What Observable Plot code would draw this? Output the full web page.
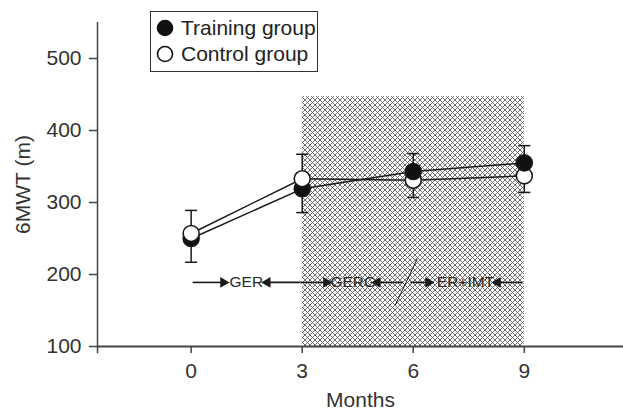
<!DOCTYPE html>
<html>
<head>
<meta charset="utf-8">
<script src="https://cdn.jsdelivr.net/npm/d3@7"></script>
<script src="https://cdn.jsdelivr.net/npm/@observablehq/plot@0.6"></script>
<style>
  body { margin: 0; background: #fff; font-family: "Liberation Sans", Arial, sans-serif; }
  #wrap { position: relative; width: 623px; height: 412px; }
  #legend { position: absolute; left: 150px; top: 11px; width: 168px; height: 61px; border: 1px solid #333; background: #fff; box-sizing: border-box; }
  #legend .row { position: absolute; left: 5px; display: flex; align-items: center; font-size: 21px; color: #222; white-space: nowrap; }
  #legend svg { margin-right: 7px; }
  #chart g[aria-label="y-axis tick label"], #chart g[aria-label="x-axis tick label"] { font-size: 21px; }
  #chart g[aria-label="y-axis label"], #chart g[aria-label="x-axis label"] { font-size: 21px; }
</style>
</head>
<body>
<div id="wrap">
  <div id="chart"></div>
  <div id="legend"></div>
</div>
<script>
// ---- data ----
const months = [0, 3, 6, 9];
const trainingMean = [250, 319, 343, 355];
const controlMean = [257, 333, 331, 337];
// one-sided error bar end values (SD)
const trainingErrEnd = [217, 286, 368, 379];
const controlErrEnd = [289, 367, 307, 314];
const yTicks = [100, 200, 300, 400, 500];
const xTicks = [0, 3, 6, 9];
const xDomain = [-2.53, 11.68];
const yDomain = [100, 550];
const interventionPeriod = [3, 9];
const interventionTop = 447;
// phase annotation
const annotY = 189;
const phaseLabels = ["GER", "GERG", "ER+IMT"];
const phaseCenters = [1.49, 4.38, 7.41];
const arrowFrom = [0.04, 2.95, 2.95, 5.73, 5.92, 8.95];
const arrowTo = [0.87, 2.06, 3.65, 5.03, 6.41, 8.28];
const slashX = [5.52, 6.11];
const slashY = [158, 222];
const groups = ["Training group", "Control group"];

// ---- build tables ----
const points = months.flatMap((m, i) => [
  {month: m, value: trainingMean[i], end: trainingErrEnd[i], group: groups[0], fill: "#111"},
  {month: m, value: controlMean[i], end: controlErrEnd[i], group: groups[1], fill: "#fff"}
]);
const arrows = arrowFrom.map((f, i) => ({from: f, to: arrowTo[i], rot: arrowTo[i] > f ? 90 : -90}));
const phases = phaseLabels.map((t, i) => ({label: t, x: phaseCenters[i]}));

const capSymbol = {
  draw(ctx, size) {
    const r = Math.sqrt(size / Math.PI);
    ctx.moveTo(-r, 0);
    ctx.lineTo(r, 0);
  }
};

const ink = "#1a1a1a";
const chart = Plot.plot({
  width: 623,
  height: 412,
  marginLeft: 97,
  marginRight: 0,
  marginTop: 22,
  marginBottom: 66,
  x: {domain: xDomain},
  y: {domain: yDomain},
  color: {type: "identity"},
  style: {fontFamily: "'Liberation Sans', Arial, sans-serif", fontSize: "21px", color: "#333", background: "#fff", overflow: "visible"},
  marks: [
    Plot.rect([interventionPeriod], {x1: d => d[0], x2: d => d[1], y1: yDomain[0], y2: interventionTop, fill: "url(#xhatch)"}),
    Plot.axisX({ticks: xTicks, tickSize: 7, tickPadding: 10, fontSize: 21, label: "Months", labelAnchor: "center", labelArrow: "none", labelOffset: 60, stroke: "#444", strokeWidth: 1.5}),
    Plot.axisY({ticks: yTicks, tickSize: 8, tickPadding: 8, fontSize: 21, label: "6MWT (m)", labelAnchor: "center", labelArrow: "none", labelOffset: 82, stroke: "#444", strokeWidth: 1.5}),
    Plot.ruleY([yDomain[0]], {stroke: "#444", strokeWidth: 1.8}),
    Plot.ruleX([xDomain[0]], {y1: yDomain[0] - 10, y2: yDomain[1], stroke: "#444", strokeWidth: 1.5}),
    // phase annotation
    Plot.link(arrows, {x1: "from", x2: "to", y1: annotY, y2: annotY, stroke: ink, strokeWidth: 1.6}),
    Plot.dot(arrows, {x: "to", y: annotY, symbol: "triangle", r: 4, rotate: "rot", fill: ink, stroke: null}),
    Plot.text(phases, {x: "x", y: annotY, text: "label", fontSize: 15.5, fill: "#2a2a2a"}),
    Plot.link([{x1: slashX[0], x2: slashX[1], y1: slashY[0], y2: slashY[1]}], {x1: "x1", x2: "x2", y1: "y1", y2: "y2", stroke: ink, strokeWidth: 1}),
    // series
    Plot.line(points, {x: "month", y: "value", z: "group", stroke: ink, strokeWidth: 1.5}),
    Plot.ruleX(points, {x: "month", y1: "value", y2: "end", stroke: ink, strokeWidth: 1.5}),
    Plot.dot(points, {x: "month", y: "end", symbol: capSymbol, r: 6, stroke: ink, strokeWidth: 1.5}),
    Plot.dot(points, {x: "month", y: "value", r: 8, fill: "fill", stroke: ink, strokeWidth: 1.6, sort: {channel: "y"}})
  ]
});

const ns = "http://www.w3.org/2000/svg";
const defs = document.createElementNS(ns, "defs");
defs.innerHTML = '<pattern id="xhatch" width="5" height="5" patternUnits="userSpaceOnUse">' +
  '<rect width="5" height="5" fill="#fff"/>' +
  '<path d="M0,0L5,5M5,0L0,5" stroke="#5e5e5e" stroke-width="0.9"/></pattern>';
chart.prepend(defs);
document.getElementById("chart").appendChild(chart);

// legend
const legend = document.getElementById("legend");
groups.forEach((g, i) => {
  const row = document.createElement("div");
  row.className = "row";
  row.style.top = (i === 0 ? 4 : 30) + "px";
  const fill = i === 0 ? "#111" : "#fff";
  row.innerHTML = `<svg width="18" height="18"><circle cx="9" cy="9" r="7.5" fill="${fill}" stroke="#111" stroke-width="1.6"/></svg><span>${g}</span>`;
  legend.appendChild(row);
});
</script>
</body>
</html>
